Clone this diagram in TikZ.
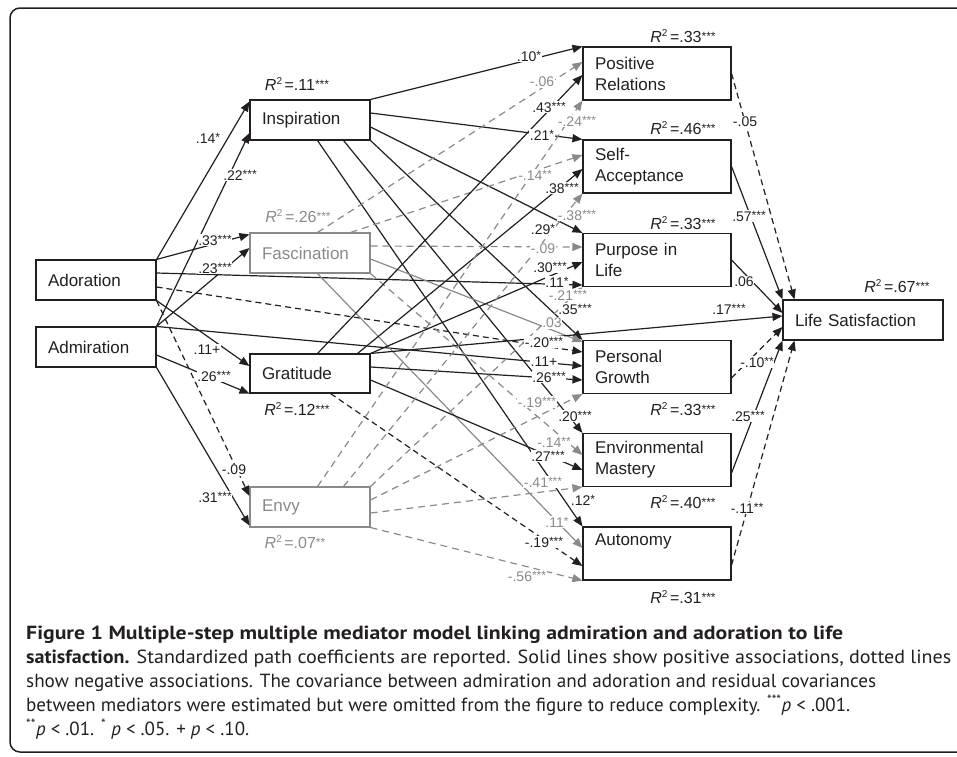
\documentclass[tikz,border=0pt]{standalone}
\usepackage{fontspec}
\usepackage{graphicx}
\setmainfont{Liberation Sans}
\newfontfamily\capfont{PT Sans}
\usetikzlibrary{arrows.meta,calc}
\definecolor{ink}{HTML}{231F20}
\definecolor{gry}{HTML}{8A8A8A}
\newcommand\sig[1]{\raisebox{2pt}{\fontsize{12}{12}\selectfont #1}}
\newcommand\rsq[1]{\textit{R}\raisebox{6pt}{\fontsize{10}{10}\selectfont 2}\hspace{2.5pt}=#1}
\begin{document}
\begin{tikzpicture}[x=1pt,y=-1pt,
  box/.style={draw=ink, line width=1.1pt, fill=white, text=ink, inner xsep=12pt, inner ysep=0pt,
    align=left, font=\fontsize{17}{21}\selectfont, minimum height=40pt},
  sbox/.style={box, text width=96pt},
  gbox/.style={sbox, draw=gry, text=gry},
  mbox/.style={box, text width=124pt, minimum height=53pt},
  lbox/.style={box, text width=136pt},
  solidB/.style={draw=ink, line width=1.2pt, -{Triangle[length=10pt,width=8pt]}},
  dashB/.style={solidB, dash pattern=on 6pt off 4pt},
  solidG/.style={draw=gry, line width=1.2pt, -{Triangle[length=10pt,width=8pt]}},
  dashG/.style={solidG, dash pattern=on 7pt off 5pt},
  lab/.style={fill=white, inner sep=0.7pt, text=ink, font=\fontsize{14}{14}\selectfont},
  glab/.style={lab, text=gry},
  rtwo/.style={inner sep=0pt, text=ink, font=\fontsize{16}{16}\selectfont},
  grtwo/.style={rtwo, text=gry},
  captext/.style={inner sep=0pt, anchor=base west, text=ink, font=\capfont\fontsize{19}{24}\selectfont}
]
\useasboundingbox (0,0) rectangle (957,756);
\clip (0,0) rectangle (957,756);
\draw[line width=1.5pt, ink, rounded corners=10pt] (10,8) rectangle (990,752);

% boxes
\node[sbox] (insp) at (310,120) {Inspiration};
\node[gbox] (fasc) at (310,253) {Fascination};
\node[sbox] (ador) at (96,280) {Adoration};
\node[sbox] (admi) at (96,347) {Admiration};
\node[sbox, minimum height=39pt] (grat) at (310,373.5) {Gratitude};
\node[gbox] (envy) at (310,507) {Envy};
\node[mbox] (pr) at (657,73.5) {Positive\\Relations};
\node[mbox] (sa) at (657,166.5) {Self-\\Acceptance};
\node[mbox] (pil) at (657,260) {Purpose in\\Life};
\node[mbox] (pg) at (657,367) {Personal\\Growth};
\node[mbox] (em) at (657,460) {Environmental\\Mastery};
\node[mbox] (aut) at (657,553.5) {Autonomy\\\strut};
\node[lbox] (ls) at (863,320) {Life Satisfaction};

% predictors -> first mediators
\draw[solidB] (ador.north east) -- ([yshift=-2pt]insp.north west);
\draw[solidB] (admi.north east) -- ([yshift=-13pt]insp.west);
\draw[solidB] (ador.north east) -- ([yshift=-2pt]fasc.north west);
\draw[solidB] (admi.north east) -- ([yshift=5pt]fasc.west);
\draw[solidB] (ador.south east) -- ([yshift=7.5pt]grat.west);
\draw[solidB] ([yshift=-8pt]admi.east) -- (grat.south west);
\draw[dashB] (ador.south east) -- ([yshift=11pt]envy.west);
\draw[solidB] (admi.south east) -- ([yshift=2pt]envy.south west);
\draw[solidB] ([yshift=7pt]ador.east) -- ([yshift=-25pt]pil.west);
\draw[dashB] ([yshift=-7pt]ador.east) -- ([yshift=15pt]pg.west);
\draw[solidB] (admi.north east) -- ([yshift=1pt]pg.west);

% inspiration
\draw[solidB] (insp.north east) -- (pr.north west);
\draw[solidB] ([yshift=7pt]insp.east) -- (sa.north west);
\draw[solidB] ([yshift=-7pt]insp.east) -- (pil.north west);
\draw[solidB] (insp.south east) -- (pg.north west);
\draw[solidB] ([xshift=-27pt]insp.south east) -- (em.north west);
\draw[solidB] ([xshift=-53pt]insp.south east) -- (aut.north west);

% fascination
\draw[dashG] ([xshift=-53pt]fasc.north east) -- ([yshift=11.5pt]pr.west);
\draw[dashG] ([xshift=-20pt]fasc.north east) -- ([yshift=11.5pt]sa.west);
\draw[dashG] ([yshift=7pt]fasc.east) -- ([yshift=13pt]pil.west);
\draw[solidG] ([yshift=-6pt]fasc.east) -- ([yshift=-2pt]pg.north west);
\draw[dashG] (fasc.south east) -- ([yshift=5pt]em.west);
\draw[solidG] ([xshift=-53pt]fasc.south east) -- ([yshift=5.5pt]aut.west);

% gratitude
\draw[solidB] ([xshift=-53pt]grat.north east) -- ([yshift=-1.5pt]pr.west);
\draw[solidB] ([xshift=-13pt]grat.north east) -- ([yshift=-2.5pt]sa.west);
\draw[solidB] (grat.north east) -- ([yshift=-2pt]pil.west);
\draw[solidB] (grat.north east) -- ([yshift=4pt]ls.west);
\draw[solidB] ([yshift=6.5pt]grat.east) -- ([yshift=-13pt]pg.west);
\draw[solidB] ([yshift=-6.5pt]grat.east) -- ([yshift=-10pt]em.west);
\draw[dashB] ([xshift=-40pt]grat.south east) -- ([yshift=-12.5pt]aut.west);

% envy
\draw[dashG] ([xshift=-53pt]envy.north east) -- (pr.south west);
\draw[dashG] ([xshift=-27pt]envy.north east) -- (sa.south west);
\draw[dashG] (envy.north east) -- (pil.south west);
\draw[dashG] ([yshift=7pt]envy.east) -- (pg.south west);
\draw[dashG] ([yshift=-6pt]envy.east) -- (em.south west);
\draw[dashG] (envy.south east) -- (aut.south west);

% mediators -> life satisfaction
\draw[dashB] (pr.east) -- ([xshift=12pt]ls.north west);
\draw[solidB] (sa.east) -- (ls.north west);
\draw[solidB] (pil.east) -- ([yshift=7pt]ls.west);
\draw[dashB] ([yshift=-11pt]pg.east) -- ([yshift=-7pt]ls.west);
\draw[solidB] ([yshift=-13pt]em.east) -- (ls.south west);
\draw[dashB] ([yshift=-11.5pt]aut.east) -- ([xshift=12pt]ls.south west);

% coefficient labels
\node[lab] (l1) at (208,138) {.14\sig{*}};
\node[lab] (l2) at (240,175) {.22\sig{***}};
\node[lab] (l3) at (215,240) {.33\sig{***}};
\node[lab] (l4) at (215,268) {.23\sig{***}};
\node[lab] (l5) at (207,350) {.11+};
\node[lab] (l6) at (214,376) {.26\sig{***}};
\node[lab] (l7) at (234,470) {-.09};
\node[lab] (l8) at (215,497) {.31\sig{***}};

\node[lab] (m1) at (529,56) {.10\sig{*}};
\node[glab] (m2) at (542,82) {-.06};
\node[lab] (m3) at (549,107) {.43\sig{***}};
\node[glab] (m4) at (577,121) {-.24\sig{***}};
\node[lab] (m5) at (542,135) {.21\sig{*}};
\node[glab] (m6) at (535,175) {-.14\sig{**}};
\node[lab] (m7) at (562,188) {.38\sig{***}};
\node[glab] (m8) at (577,215) {-.38\sig{***}};
\node[lab] (m9) at (543,229) {.29\sig{*}};
\node[glab] (m10) at (543,249) {-.09};
\node[lab] (m11) at (550,267) {.30\sig{***}};
\node[lab] (m12) at (557,282) {.11\sig{*}};
\node[glab] (m13) at (568,295) {-.21\sig{***}};
\node[lab] (m14) at (575,309) {.35\sig{***}};
\node[glab] (m15) at (552,323) {.03};
\node[lab] (m16) at (544,342) {-.20\sig{***}};
\node[lab] (m17) at (544,362) {.11+};
\node[lab] (m18) at (549,377) {.26\sig{***}};
\node[glab] (m19) at (537,402) {-.19\sig{***}};
\node[lab] (m20) at (575,416) {.20\sig{***}};
\node[glab] (m21) at (554,442) {-.14\sig{**}};
\node[lab] (m22) at (548,456) {.27\sig{***}};
\node[glab] (m23) at (543,482) {-.41\sig{***}};
\node[lab] (m24) at (583,500) {.12\sig{*}};
\node[glab] (m25) at (557,522) {.11\sig{*}};
\node[lab] (m26) at (544,542) {-.19\sig{***}};
\node[glab] (m27) at (527,576) {-.56\sig{***}};

\node[lab] (n1) at (745,122) {-.05};
\node[lab] (n2) at (749,216) {.57\sig{***}};
\node[lab] (n3) at (744,282) {.06};
\node[lab] (n4) at (729,309) {.17\sig{***}};
\node[lab] (n5) at (757,362) {-.10\sig{**}};
\node[lab] (n6) at (748,416) {.25\sig{***}};
\node[lab] (n7) at (747,508) {-.11\sig{**}};

% R squared
\node[rtwo] (r1) at (297,84) {\rsq{.11\sig{***}}};
\node[grtwo] (r2) at (298,216) {\rsq{.26\sig{***}}};
\node[rtwo] (r3) at (297,409) {\rsq{.12\sig{***}}};
\node[grtwo] (r4) at (295,542) {\rsq{.07\sig{**}}};
\node[rtwo] (r5) at (683,36) {\rsq{.33\sig{***}}};
\node[rtwo] (r6) at (683,128) {\rsq{.46\sig{***}}};
\node[rtwo] (r7) at (683,223) {\rsq{.33\sig{***}}};
\node[rtwo] (r8) at (683,409) {\rsq{.33\sig{***}}};
\node[rtwo] (r9) at (683,502) {\rsq{.40\sig{***}}};
\node[rtwo] (r10) at (683,597) {\rsq{.31\sig{***}}};
\node[rtwo] (r11) at (897,286) {\rsq{.67\sig{***}}};

% caption
\node[captext] (c1) at (26,639) {\resizebox{817pt}{\height}{\bfseries Figure 1 Multiple-step multiple mediator model linking admiration and adoration to life}};
\node[captext] (c2) at (26,663) {\resizebox{925pt}{\height}{\textbf{satisfaction.} Standardized path coefficients are reported. Solid lines show positive associations, dotted lines}};
\node[captext] (c3) at (26,687) {\resizebox{850pt}{\height}{show negative associations. The covariance between admiration and adoration and residual covariances}};
\node[captext] (c4) at (26,711) {\resizebox{824pt}{\height}{between mediators were estimated but were omitted from the figure to reduce complexity. \textsuperscript{***}\textit{p} < .001.}};
\node[captext] (c5) at (26,735) {\textsuperscript{**}\textit{p} < .01. \textsuperscript{*} \textit{p} < .05. + \textit{p} < .10.};
\end{tikzpicture}
\end{document}
